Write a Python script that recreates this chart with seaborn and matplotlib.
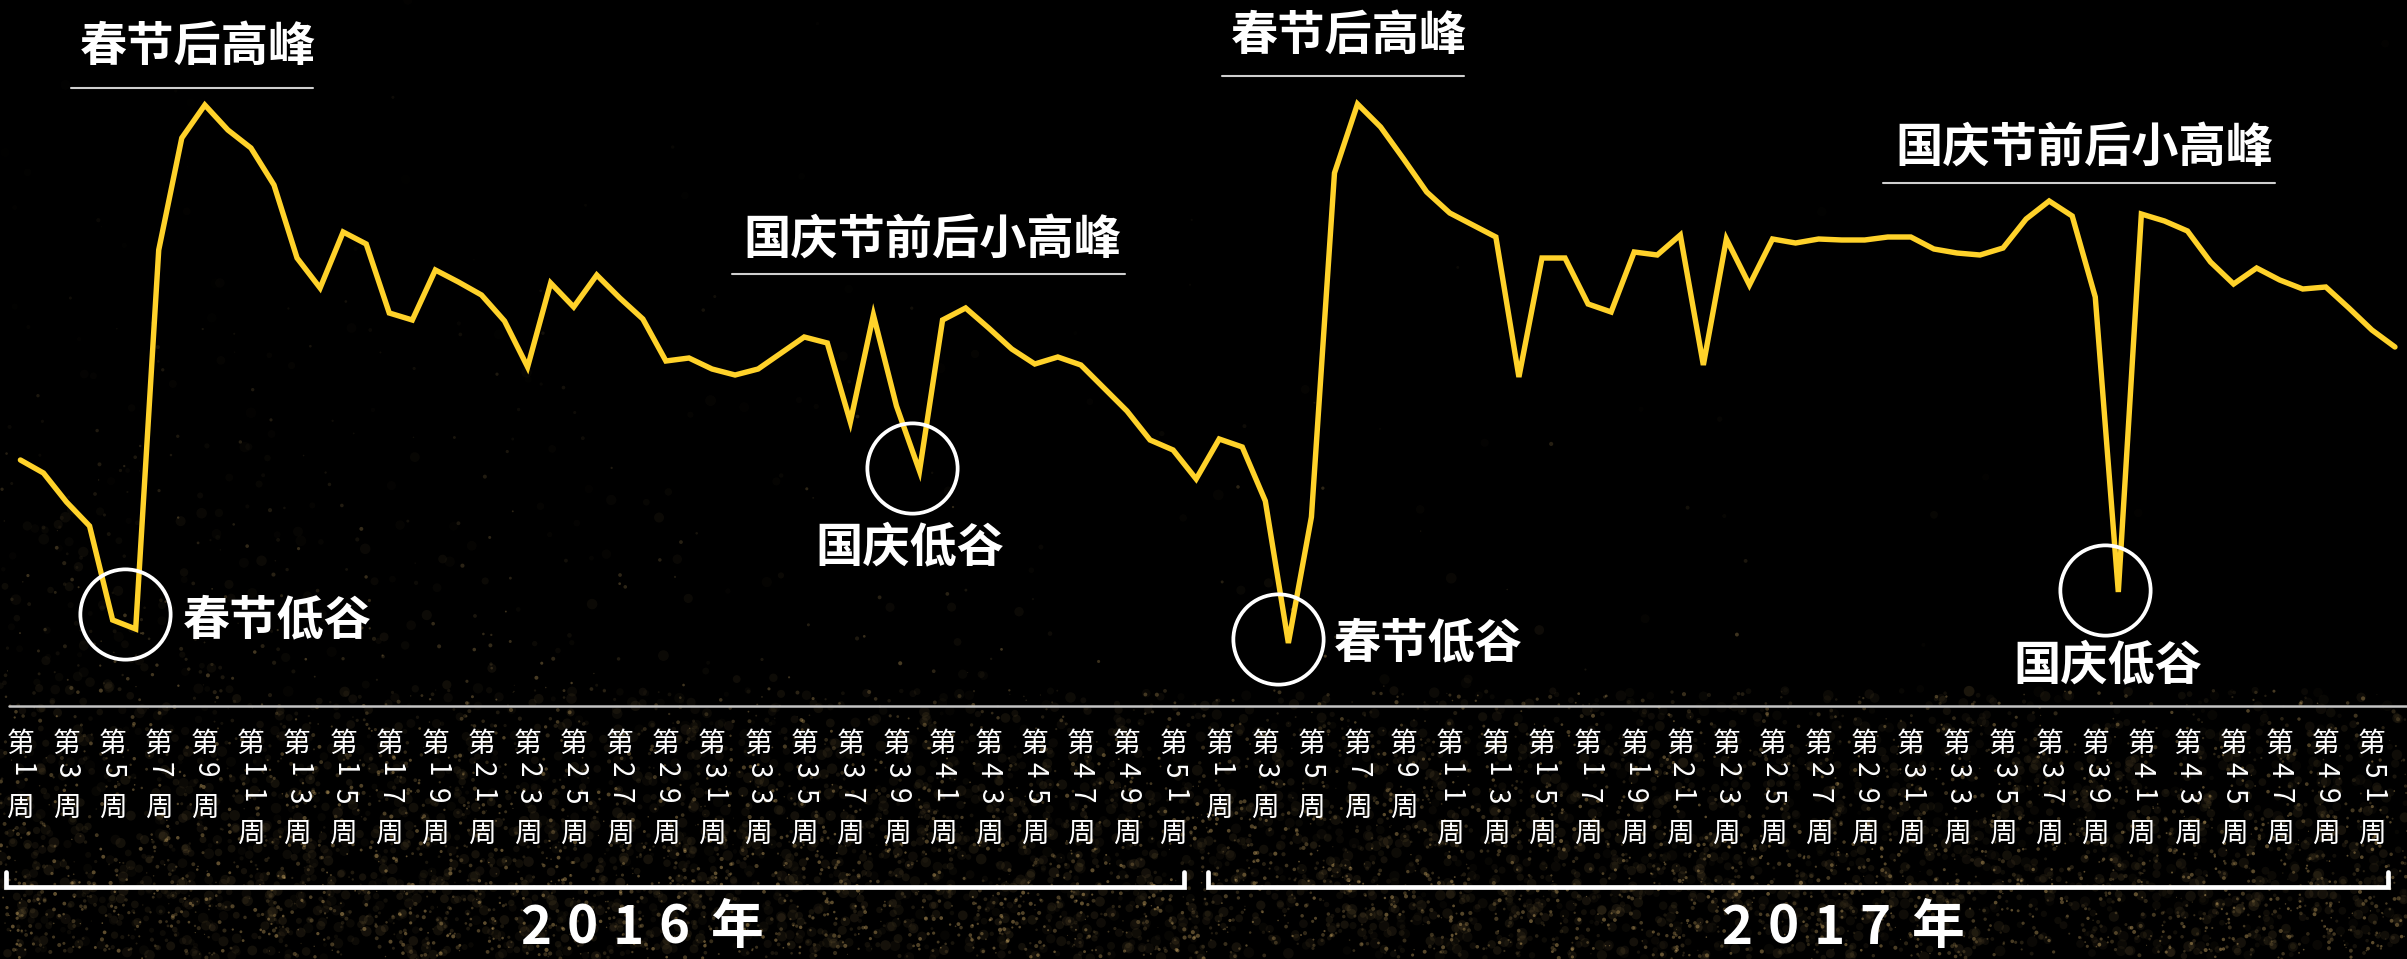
import numpy as np
import pandas as pd
import matplotlib
matplotlib.use("Agg")
import matplotlib.pyplot as plt
from matplotlib import transforms
import seaborn as sns

# Weekly index, 2016 and 2017 (52 weeks each)
values_2016 = [240, 227, 198, 174, 80, 71, 450, 562, 595, 570, 552, 515, 442, 412, 468,
               456, 387, 380, 430, 418, 405, 379, 333, 417, 393, 425, 402, 381, 339, 342,
               331, 325, 331, 347, 363, 357, 278, 385, 294, 229, 380, 392, 372, 351, 336,
               343, 335, 312, 289, 260, 250, 221]
values_2017 = [261, 253, 199, 57, 183, 527, 596, 573, 541, 508, 487, 475, 463, 323, 442,
               442, 396, 388, 448, 445, 465, 335, 461, 415, 461, 457, 461, 460, 460, 463,
               463, 451, 447, 445, 452, 481, 499, 484, 403, 108, 486, 479, 469, 438, 416,
               432, 420, 411, 413, 392, 370, 353]
years = ["2016", "2017"]
tick_weeks = list(range(1, 52, 2))
peak_label = "春节后高峰"
national_peak_label = "国庆节前后小高峰"
spring_low_label = "春节低谷"
national_low_label = "国庆低谷"

sns.set_theme(style="dark")
plt.rcParams["font.family"] = ["Noto Sans CJK SC", "DejaVu Sans"]

W, H, DPI = 2407, 959, 100
X0, DX = 20.4, 23.054          # first week position and week spacing (px)
LINE_C = "#FFD22A"

fig = plt.figure(figsize=(W / DPI, H / DPI), dpi=DPI, facecolor="black")

# background layer with faint golden specks, denser towards the bottom-left
bg = fig.add_axes([0, 0, 1, 1])
bg.set_xlim(0, W)
bg.set_ylim(H, 0)
bg.set_facecolor("black")
bg.axis("off")
rng = np.random.default_rng(11)


def specks(n, size_lo, size_hi, a_lo, a_hi):
    sx = rng.uniform(0, W, n)
    sy = H - rng.gamma(1.3, 150, n)
    keep = (sy > 0) & ((sy > 690) | (rng.uniform(0, 1, n) < np.exp(-sx / 450)))
    sx, sy = sx[keep], sy[keep]
    fade = np.clip((sy - 150) / 700, 0.15, 1)
    cols = np.zeros((sx.size, 4))
    cols[:, :3] = (0.85, 0.70, 0.42)
    cols[:, 3] = rng.uniform(a_lo, a_hi, sx.size) * fade
    bg.scatter(sx, sy, s=rng.uniform(size_lo, size_hi, sx.size), c=cols, linewidths=0)


specks(5000, 8, 60, 0.03, 0.10)   # soft glow
specks(6000, 0.6, 9, 0.10, 0.45)  # sharp grains

# data layer
ax = fig.add_axes([0, 0, 1, 1])
ax.patch.set_alpha(0)
df = pd.DataFrame({
    "idx": np.arange(len(values_2016) + len(values_2017)),
    "value": values_2016 + values_2017,
})
sns.lineplot(data=df, x="idx", y="value", ax=ax, color=LINE_C, linewidth=3.9,
             solid_joinstyle="miter")
ax.set_xlim(-X0 / DX, (W - X0) / DX)
ax.set_ylim(700 - H, 700)
ax.axis("off")

# overlay layer in pixel units for annotations
deco = fig.add_axes([0, 0, 1, 1])
deco.set_xlim(0, W)
deco.set_ylim(H, 0)
deco.patch.set_alpha(0)
deco.axis("off")

# rings around holiday lows
n16 = len(values_2016)
i_cj16 = int(np.argmin(values_2016[:10]))
i_gq16 = 35 + int(np.argmin(values_2016[35:45]))
i_cj17 = n16 + int(np.argmin(values_2017[:10]))
i_gq17 = n16 + 35 + int(np.argmin(values_2017[35:45]))
for i, dx, dy in [(i_cj16, -11, 15), (i_gq16, -8, 3), (i_cj17, -10, 4), (i_gq17, -13, 2)]:
    off = transforms.ScaledTranslation(dx / DPI, dy / DPI, fig.dpi_scale_trans)
    ax.plot([df.idx[i]], [df.value[i]], marker="o", ms=65, mfc="none", mec="white",
            mew=2.7, transform=ax.transData + off, zorder=5)

# headline labels
bold = dict(color="white", fontsize=34, fontweight="heavy", ha="center", va="center")
deco.text(198, 47, peak_label, **bold)
deco.text(1349, 36, peak_label, **bold)
deco.text(932, 240, national_peak_label, **bold)
deco.text(2084, 148, national_peak_label, **bold)
deco.text(277, 620, spring_low_label, **bold)
deco.text(1428, 643, spring_low_label, **bold)
deco.text(910, 547, national_low_label, **bold)
deco.text(2108, 665, national_low_label, **bold)
for x1, x2, y in [(71, 313, 88), (1222, 1464, 76), (732, 1125, 274), (1883, 2275, 183)]:
    deco.plot([x1, x2], [y, y], color="#cfcfcf", lw=1.5)

# separator
deco.plot([9, W], [706, 706], color="#c4c4c4", lw=1.8)

# vertical week labels
tb = transforms.blended_transform_factory(ax.transData, deco.transData)
tick_kw = dict(color="white", fontsize=20, ha="center", va="center", transform=tb)
for k in range(len(years)):
    for w in tick_weeks:
        xi = k * n16 + w - 1
        deco.text(xi, 744, "第", **tick_kw)
        digits = str(w)
        for j, d in enumerate(digits):
            deco.text(xi, 770 + 26 * j, d, rotation=-90, **tick_kw)
        deco.text(xi, 808 + 26 * (len(digits) - 1), "周", **tick_kw)

# year brackets
for x1, x2 in [(6, 1184), (1208, 2388)]:
    deco.plot([x1, x1, x2, x2], [872, 887, 887, 872], color="white", lw=3.4,
              solid_joinstyle="miter")

# year captions
year_kw = dict(color="white", fontsize=38, fontweight="bold", ha="center", va="center")
for label, x_start in zip(years, [536, 1737]):
    for j, ch in enumerate(label):
        deco.text(x_start + 46 * j, 928, ch, **year_kw)
    deco.text(x_start + 46 * 3 + 62, 928, "年", **year_kw)

fig.savefig("out.png", dpi=DPI, facecolor="black")
